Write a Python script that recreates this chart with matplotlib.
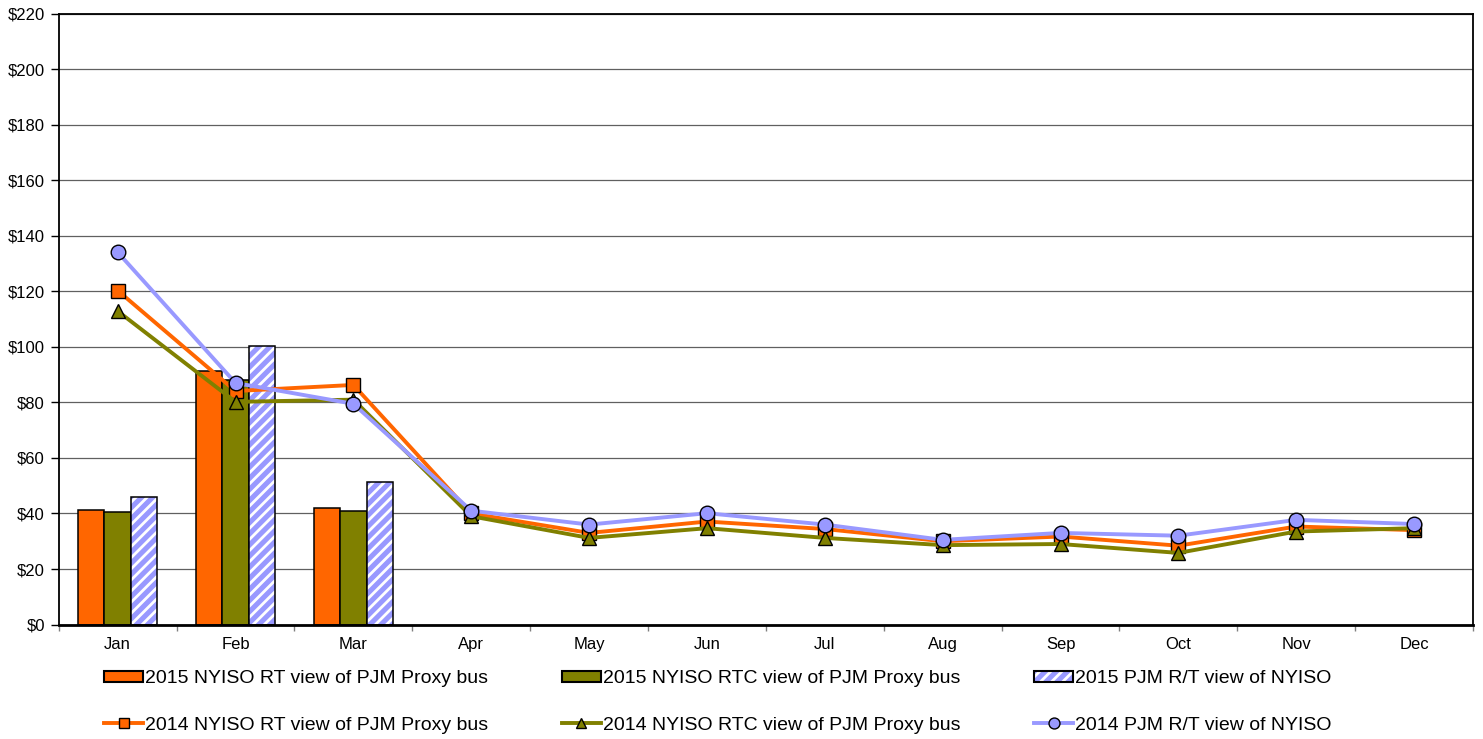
import numpy as np
import matplotlib
matplotlib.use("Agg")
import matplotlib.pyplot as plt
import matplotlib.patches as mpatches
from matplotlib.legend_handler import HandlerTuple
from matplotlib.ticker import FuncFormatter, MultipleLocator, FixedLocator

plt.rcParams['font.family'] = ['Liberation Sans', 'DejaVu Sans']
plt.rcParams['hatch.linewidth'] = 2.0

months = ['Jan', 'Feb', 'Mar', 'Apr', 'May', 'Jun', 'Jul', 'Aug', 'Sep', 'Oct', 'Nov', 'Dec']

# 2015 bars (only Jan-Mar so far)
rt_2015 = [41.3, 91.2, 42.1]
rtc_2015 = [40.4, 88.2, 41.0]
pjm_2015 = [45.8, 100.2, 51.5]

# 2014 lines
rt_2014 = [120.3, 84.1, 86.3, 40.0, 33.0, 37.1, 34.4, 30.0, 31.7, 28.4, 35.3, 34.0]
rtc_2014 = [112.9, 80.2, 81.0, 39.0, 31.2, 34.7, 31.2, 28.6, 29.0, 25.8, 33.5, 34.7]
pjm_2014 = [134.1, 87.0, 79.5, 41.0, 36.0, 40.1, 36.0, 30.5, 33.0, 32.0, 37.7, 36.2]

c_rt = '#FF6600'
c_rtc = '#808000'
c_pjm = '#9999FF'

fig = plt.figure(figsize=(14.83, 7.39), dpi=100)
ax = fig.add_axes([0.0396, 0.1549, 0.9537, 0.8265])

x = np.arange(len(months))
xb = np.arange(len(rt_2015))
w = 0.225

b1 = ax.bar(xb - w, rt_2015, w, color=c_rt, edgecolor='black', linewidth=1.1, zorder=2)
b2 = ax.bar(xb, rtc_2015, w, color=c_rtc, edgecolor='black', linewidth=1.1, zorder=2)
# hatched bar: white stripes on periwinkle, then a black outline on top
ax.bar(xb + w, pjm_2015, w, color=c_pjm, edgecolor='white', hatch='///', linewidth=0, zorder=2)
ax.bar(xb + w, pjm_2015, w, facecolor='none', edgecolor='black', linewidth=1.1, zorder=2.1)

l1, = ax.plot(x, rt_2014, color=c_rt, lw=2.8, marker='s', ms=10.5, mfc=c_rt, mec='black', mew=1.0, zorder=3)
l2, = ax.plot(x, rtc_2014, color=c_rtc, lw=2.8, marker='^', ms=10.5, mfc=c_rtc, mec='black', mew=1.0, zorder=3.1)
l3, = ax.plot(x, pjm_2014, color=c_pjm, lw=2.8, marker='o', ms=10.5, mfc=c_pjm, mec='black', mew=1.0, zorder=3.2)

ax.set_xlim(-0.5, 11.5)
ax.set_ylim(0, 220)
ax.yaxis.set_major_locator(MultipleLocator(20))
ax.yaxis.set_major_formatter(FuncFormatter(lambda v, p: f'${v:.0f}'))
ax.set_xticks(x)
ax.set_xticklabels(months)
ax.xaxis.set_minor_locator(FixedLocator(np.arange(-0.5, 12, 1)))
ax.tick_params(axis='x', which='major', length=0, pad=9, labelsize=12)
ax.tick_params(axis='x', which='minor', length=4, color='#808080', width=1)
ax.tick_params(axis='y', length=6, width=1, pad=4, labelsize=12)

ax.grid(axis='y', color='#606060', lw=0.9)
ax.set_axisbelow(True)
for s in ['left', 'right', 'top']:
    ax.spines[s].set_linewidth(1.3)
ax.spines['bottom'].set_linewidth(2.0)

p_rt = mpatches.Patch(facecolor=c_rt, edgecolor='black', linewidth=1.5)
p_rtc = mpatches.Patch(facecolor=c_rtc, edgecolor='black', linewidth=1.5)
p_pjm = (mpatches.Patch(facecolor=c_pjm, edgecolor='white', hatch='///', linewidth=0),
         mpatches.Patch(facecolor='none', edgecolor='black', linewidth=1.5))

handles = [p_rt, l1, p_rtc, l2, p_pjm, l3]
labels = ['2015 NYISO RT view of PJM Proxy bus', '2014 NYISO RT view of PJM Proxy bus',
          '2015 NYISO RTC view of PJM Proxy bus', '2014 NYISO RTC view of PJM Proxy bus',
          '2015 PJM R/T view of NYISO', '2014 PJM R/T view of NYISO']
fig.legend(handles, labels, ncol=3, loc='center', bbox_to_anchor=(0.484, 0.050),
           frameon=False, fontsize=14, handlelength=2.0, handleheight=0.5,
           handletextpad=0.1, columnspacing=3.8, labelspacing=1.5, markerscale=0.75,
           borderpad=0, handler_map={tuple: HandlerTuple(ndivide=1, pad=0)})

fig.savefig('out.png', dpi=100)
